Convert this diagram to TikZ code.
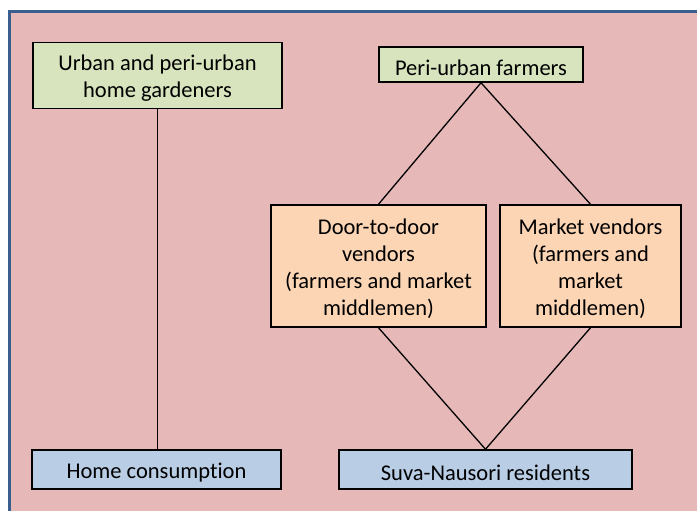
\documentclass[tikz,border=0pt]{standalone}
\usepackage{fontspec}
\setmainfont[Ligatures={NoCommon}]{Carlito}
\definecolor{bgpink}{HTML}{E6B9B8}
\definecolor{frameblue}{HTML}{3A5F8F}
\definecolor{boxgreen}{HTML}{D7E4BD}
\definecolor{boxorange}{HTML}{FCD5B5}
\definecolor{boxblue}{HTML}{B9CDE5}
\tikzset{
  boxbase/.style={draw=black, line width=1.5pt, inner sep=0pt},
  boxtext/.style={align=center, inner sep=0pt, yshift=-3pt,
    font=\fontsize{22.5}{27}\selectfont},
  greenbox/.style={boxbase, fill=boxgreen},
  orangebox/.style={boxbase, fill=boxorange},
  bluebox/.style={boxbase, fill=boxblue},
  link/.style={draw=black, line width=1.3pt}
}
\begin{document}
\begin{tikzpicture}[x=1pt,y=-1pt]
\useasboundingbox (0,0) rectangle (697,511);
\fill[white] (0,0) rectangle (697,511);
\begin{scope}
\clip (0,0) rectangle (697,511);
\draw[fill=bgpink, draw=frameblue, line width=3pt] (9.5,11.5) rectangle (720,540);
\end{scope}
\node[greenbox, minimum width=249pt, minimum height=66pt, label={[boxtext]center:{Urban and peri-urban\\home gardeners}}] (urban) at (157.5,75.5) {};
\node[greenbox, minimum width=204pt, minimum height=35pt, label={[boxtext]center:{Peri-urban farmers}}] (peri) at (481,64.5) {};
\node[orangebox, minimum width=215pt, minimum height=122pt, label={[boxtext]center:{Door-to-door\\vendors\\(farmers and market\\middlemen)}}] (door) at (378.5,266) {};
\node[orangebox, minimum width=181pt, minimum height=122pt, label={[boxtext]center:{Market vendors\\(farmers and\\market\\middlemen)}}] (market) at (590.5,266) {};
\node[bluebox, minimum width=249pt, minimum height=39pt, label={[boxtext]center:{Home consumption}}] (home) at (156.5,469.5) {};
\node[bluebox, minimum width=293pt, minimum height=39pt, label={[boxtext]center:{Suva-Nausori residents}}] (suva) at (485.5,469.5) {};
\draw[link] (urban.south) -- (urban.south |- home.north);
\draw[link] (peri.south) -- (door.north);
\draw[link] (peri.south) -- (market.north);
\draw[link] (door.south) -- (suva.north);
\draw[link] (market.south) -- (suva.north);
\end{tikzpicture}
\end{document}
